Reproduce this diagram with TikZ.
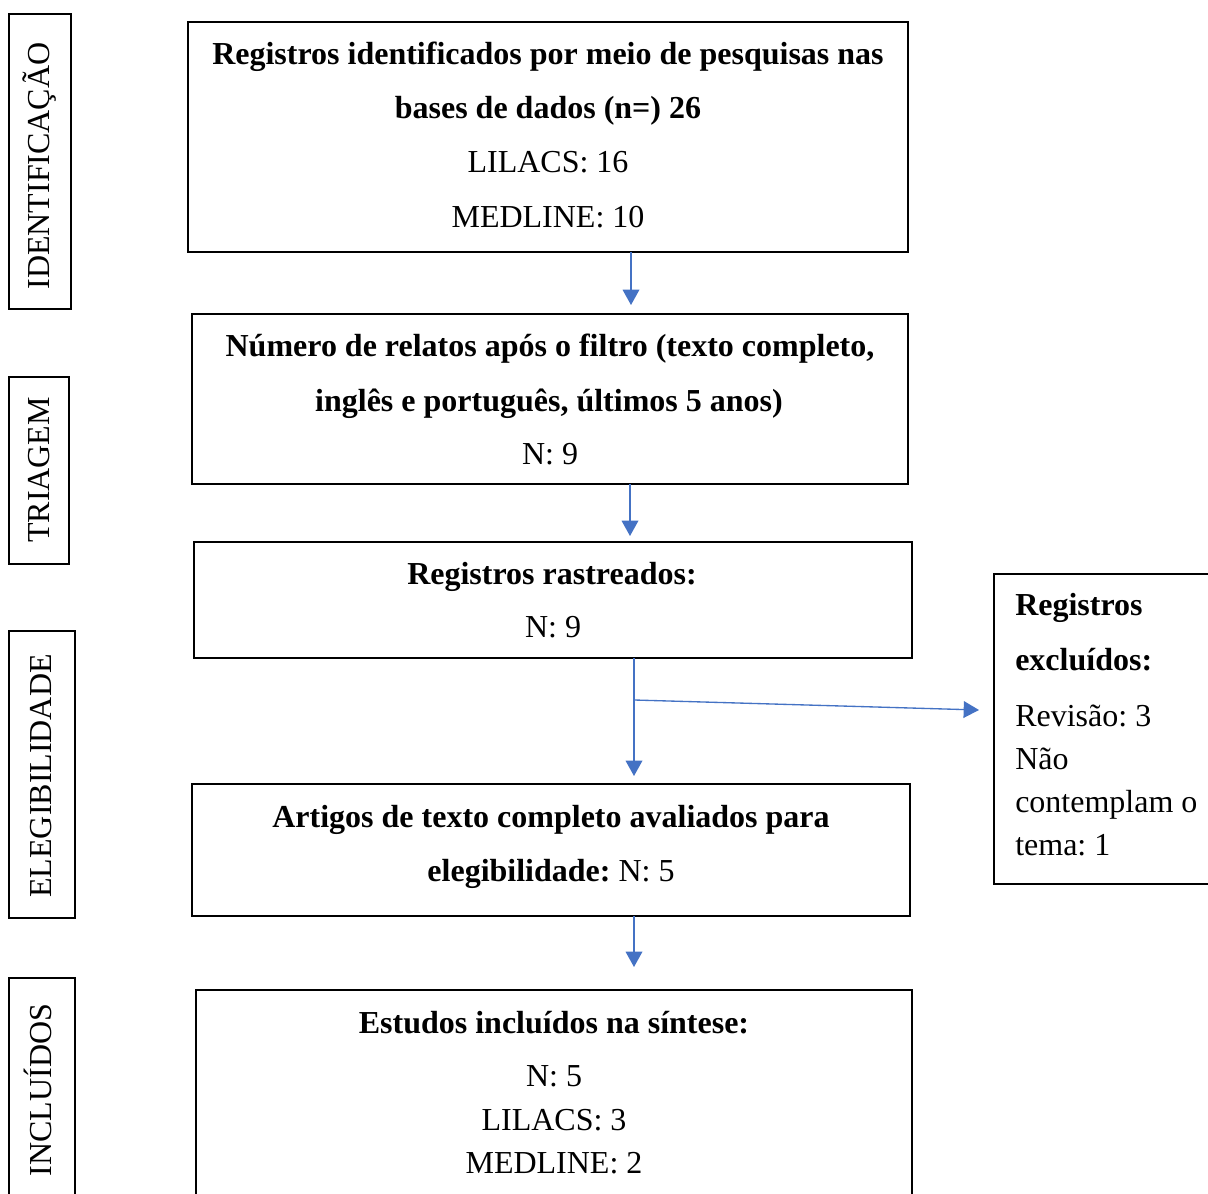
\documentclass[tikz,border=0pt]{standalone}
\usepackage{fontspec}
\setmainfont{Liberation Serif}
\frenchspacing
\usetikzlibrary{arrows.meta,fit}
\definecolor{arrblue}{HTML}{4472C4}
\begin{document}
\begin{tikzpicture}[x=0.75pt,y=-0.75pt,
  box/.style={draw=black,line width=1.4pt,inner sep=0pt,fill=none},
  txt/.style={anchor=base,inner sep=0pt,font=\fontsize{24pt}{28pt}\selectfont\frenchspacing},
  btxt/.style={txt,font=\fontsize{24pt}{28pt}\selectfont\bfseries\frenchspacing},
  ltxt/.style={txt,anchor=base west},
  lbtxt/.style={btxt,anchor=base west},
  side/.style={txt,rotate=90},
  arr/.style={draw=arrblue,line width=1pt,-{Triangle[width=12.5pt,length=11.5pt]}}]
\clip (0,0) rectangle (1208,1194);
\fill[white] (0,0) rectangle (1208,1194);

% side labels
\node[box,fit={(9,14)(71,309)}] (s1) {};
\node[box,fit={(9,377)(69,564)}] (s2) {};
\node[box,fit={(9,631)(75,918)}] (s3) {};
\node[box,fit={(9,978)(75,1230)}] (s4) {};
\node[side] (s1t) at (50,166) {IDENTIFICAÇÃO};
\node[side] (s2t) at (50,470) {TRIAGEM};
\node[side] (s3t) at (51,776) {ELEGIBILIDADE};
\node[side] (s4t) at (51,1090) {INCLUÍDOS};

% main boxes
\node[box,fit={(188,22)(908,252)}] (b1) {};
\node[box,fit={(192,314)(908,484)}] (b2) {};
\node[box,fit={(194,542)(912,658)}] (b3) {};
\node[box,fit={(192,784)(910,916)}] (b4) {};
\node[box,fit={(196,990)(912,1230)}] (b5) {};
\node[box,fit={(994,574)(1230,884)}] (bx) {};

% texts
\node[btxt] (t11) at (548,65) {Registros identificados por meio de pesquisas nas};
\node[btxt] (t12) at (548,119) {bases de dados (n=) 26};
\node[txt] (t13) at (548,173) {LILACS: 16};
\node[txt] (t14) at (548,228) {MEDLINE: 10};

\node[btxt] (t21) at (550,357) {Número de relatos após o filtro (texto completo,};
\node[btxt] (t22) at (549,412) {inglês e português, últimos 5 anos)};
\node[txt] (t23) at (550,465) {N: 9};

\node[btxt] (t31) at (552,585) {Registros rastreados:};
\node[txt] (t32) at (553,638) {N: 9};

\node[btxt] (t41) at (551,827) {Artigos de texto completo avaliados para};
\node[txt] (t42) at (551,881) {\textbf{elegibilidade:} N: 5};

\node[btxt] (t51) at (554,1033) {Estudos incluídos na síntese:};
\node[txt] (t52) at (554,1086) {N: 5};
\node[txt] (t53) at (554,1130) {LILACS: 3};
\node[txt] (t54) at (554,1173) {MEDLINE: 2};

\node[lbtxt] (tx1) at (1015,616) {Registros};
\node[lbtxt] (tx2) at (1015,671) {excluídos:};
\node[ltxt] (tx3) at (1015,726) {Revisão: 3};
\node[ltxt] (tx4) at (1015,769) {Não};
\node[ltxt] (tx5) at (1015,812) {contemplam o};
\node[ltxt] (tx6) at (1015,855) {tema: 1};

% connectors
\coordinate (a1s) at (631,252); \coordinate (a1e) at (631,305);
\coordinate (a2s) at (630,484); \coordinate (a2e) at (630,536);
\coordinate (a3s) at (634,658); \coordinate (a3e) at (634,776);
\coordinate (br) at (634,700); \coordinate (bre) at (979,710);
\coordinate (a4s) at (634,916); \coordinate (a4e) at (634,967);
\draw[arr] (a1s) -- (a1e);
\draw[arr] (a2s) -- (a2e);
\draw[arr] (a3s) -- (a3e);
\draw[arr] (br) -- (bre);
\draw[arr] (a4s) -- (a4e);
\end{tikzpicture}
\end{document}
